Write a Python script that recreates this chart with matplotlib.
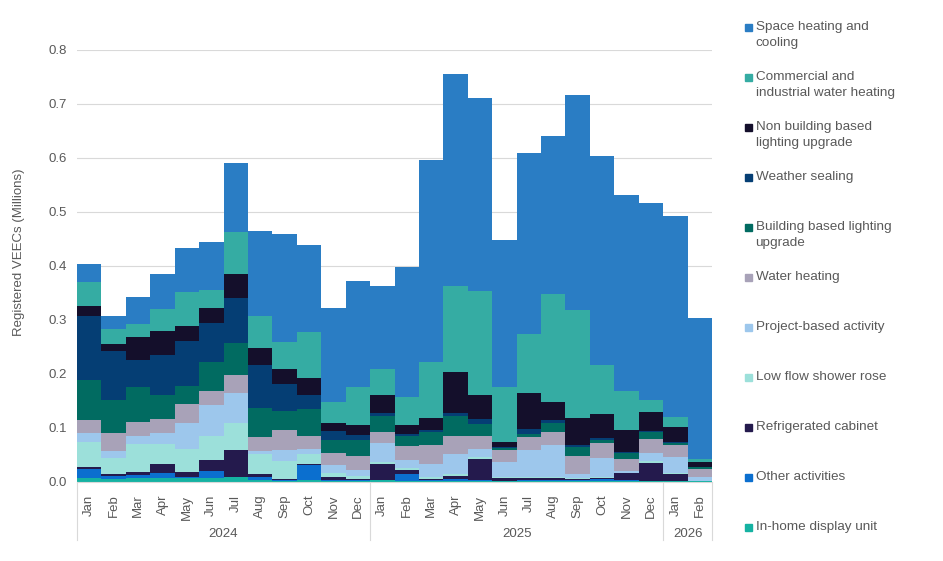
import matplotlib
matplotlib.use("Agg")
import matplotlib.pyplot as plt
from matplotlib.patches import Rectangle
import matplotlib.transforms as mtransforms
import numpy as np

plt.rcParams['font.family'] = ['Liberation Sans', 'DejaVu Sans']

months = ["Jan", "Feb", "Mar", "Apr", "May", "Jun", "Jul", "Aug", "Sep", "Oct", "Nov", "Dec",
          "Jan", "Feb", "Mar", "Apr", "May", "Jun", "Jul", "Aug", "Sep", "Oct", "Nov", "Dec",
          "Jan", "Feb"]
years = ["2024", "2025", "2026"]
year_counts = [12, 12, 2]

# bottom -> top stacking order
in_home_display = [0.007, 0.006, 0.007, 0.007, 0.007, 0.007, 0.009, 0.004, 0.002, 0.003, 0.002, 0.002,
                   0.003, 0.001, 0.002, 0.002, 0.002, 0.001, 0.002, 0.002, 0.002, 0.002, 0.002, 0.001,
                   0.001, 0.001]
other_activities = [0.017, 0.006, 0.006, 0.009, 0.002, 0.013, 0.001, 0.006, 0.001, 0.028, 0.002, 0.001,
                    0.001, 0.014, 0.001, 0.004, 0.002, 0.001, 0.002, 0.002, 0.002, 0.004, 0.001, 0.001,
                    0.001, 0.0]
refrigerated_cabinet = [0.004, 0.003, 0.005, 0.017, 0.009, 0.020, 0.049, 0.004, 0.003, 0.002, 0.005, 0.003,
                        0.030, 0.008, 0.003, 0.006, 0.039, 0.005, 0.003, 0.003, 0.002, 0.002, 0.013, 0.034,
                        0.013, 0.0]
low_flow_shower_rose = [0.047, 0.030, 0.053, 0.038, 0.043, 0.045, 0.050, 0.037, 0.033, 0.019, 0.007, 0.006,
                        0.003, 0.003, 0.003, 0.002, 0.003, 0.002, 0.002, 0.002, 0.002, 0.002, 0.001, 0.002,
                        0.001, 0.001]
project_based = [0.016, 0.012, 0.015, 0.020, 0.049, 0.058, 0.056, 0.007, 0.020, 0.009, 0.016, 0.011,
                 0.036, 0.015, 0.025, 0.038, 0.016, 0.028, 0.050, 0.059, 0.007, 0.034, 0.004, 0.016,
                 0.030, 0.007]
water_heating = [0.024, 0.034, 0.025, 0.025, 0.034, 0.025, 0.033, 0.026, 0.037, 0.025, 0.022, 0.025,
                 0.019, 0.025, 0.034, 0.034, 0.023, 0.022, 0.025, 0.025, 0.033, 0.028, 0.021, 0.025,
                 0.023, 0.016]
building_lighting = [0.073, 0.060, 0.064, 0.045, 0.033, 0.054, 0.060, 0.053, 0.035, 0.049, 0.023, 0.030,
                     0.031, 0.020, 0.025, 0.037, 0.022, 0.004, 0.005, 0.017, 0.017, 0.006, 0.012, 0.014,
                     0.004, 0.002]
weather_sealing = [0.119, 0.091, 0.050, 0.075, 0.085, 0.072, 0.082, 0.080, 0.050, 0.027, 0.017, 0.009,
                   0.004, 0.003, 0.003, 0.005, 0.009, 0.002, 0.009, 0.005, 0.003, 0.003, 0.002, 0.002,
                   0.002, 0.001]
non_building_lighting = [0.019, 0.014, 0.043, 0.043, 0.026, 0.029, 0.045, 0.032, 0.028, 0.031, 0.016, 0.019,
                         0.034, 0.017, 0.022, 0.075, 0.046, 0.009, 0.066, 0.034, 0.050, 0.045, 0.040, 0.035,
                         0.026, 0.009]
cni_water_heating = [0.045, 0.027, 0.024, 0.041, 0.064, 0.032, 0.078, 0.058, 0.051, 0.085, 0.038, 0.070,
                     0.048, 0.052, 0.104, 0.160, 0.192, 0.102, 0.110, 0.199, 0.200, 0.091, 0.072, 0.022,
                     0.020, 0.006]
space_heating = [0.032, 0.025, 0.050, 0.065, 0.081, 0.089, 0.128, 0.157, 0.200, 0.161, 0.175, 0.196,
                 0.154, 0.241, 0.375, 0.393, 0.358, 0.272, 0.336, 0.292, 0.399, 0.386, 0.364, 0.364,
                 0.372, 0.260]

series = [
    ("In-home display unit", in_home_display, "#15B2A2"),
    ("Other activities", other_activities, "#0B6FCF"),
    ("Refrigerated cabinet", refrigerated_cabinet, "#241A4D"),
    ("Low flow shower rose", low_flow_shower_rose, "#9CE0DA"),
    ("Project-based activity", project_based, "#9DC7EC"),
    ("Water heating", water_heating, "#A8A2B8"),
    ("Building based lighting\nupgrade", building_lighting, "#016B61"),
    ("Weather sealing", weather_sealing, "#053E74"),
    ("Non building based\nlighting upgrade", non_building_lighting, "#140F2B"),
    ("Commercial and\nindustrial water heating", cni_water_heating, "#35ACA3"),
    ("Space heating and\ncooling", space_heating, "#2A7DC4"),
]

W, H = 943, 561
fig = plt.figure(figsize=(W / 100, H / 100), dpi=100)
ax = fig.add_axes([77 / W, 1 - 482 / H, (712 - 77) / W, (482 - 50) / H])

grey = "#595959"
x = np.arange(len(months))
bottom = np.zeros(len(months))
for name, vals, col in series:
    v = np.array(vals)
    ax.bar(x, v, width=1.0, bottom=bottom, color=col, linewidth=0, zorder=2)
    bottom += v

ax.set_xlim(-0.5, len(months) - 0.5)
ax.set_ylim(0, 0.8)
ax.set_yticks(np.arange(0, 0.81, 0.1))
ax.set_yticklabels([f"{t:.1f}" for t in np.arange(0, 0.81, 0.1)], fontsize=9.5, color=grey)
ax.yaxis.grid(True, color="#D9D9D9", linewidth=0.8, zorder=0)
ax.set_axisbelow(True)
for s in ["top", "right", "left"]:
    ax.spines[s].set_visible(False)
ax.spines["bottom"].set_color("#D9D9D9")
ax.tick_params(axis="y", length=0, pad=7)
ax.set_xticks(x)
ax.set_xticklabels(months, rotation=90, fontsize=9.5, color=grey)
ax.tick_params(axis="x", length=0, pad=9)

# year group labels and separators
trans = mtransforms.blended_transform_factory(ax.transData, ax.transAxes)
sep_bottom = -(540 - 482) / (482 - 50)
start = 0
edges = [-0.5]
for yr, n in zip(years, year_counts):
    center = start + (n - 1) / 2
    ax.text(center, -(534 - 482) / (482 - 50), yr, transform=trans, ha="center", va="center",
            fontsize=9.5, color=grey)
    start += n
    edges.append(start - 0.5)
for e in edges:
    ax.plot([e, e], [0, sep_bottom], transform=trans, color="#D9D9D9", linewidth=0.8, clip_on=False)

fig.text(19 / W, 1 - 252 / H, "Registered VEECs (Millions)", rotation=90, ha="center", va="center",
         fontsize=9.5, color=grey)

# legend (top -> bottom)
for i, (name, vals, col) in enumerate(reversed(series)):
    ytop = 27 + 50 * i
    fig.patches.append(Rectangle((745 / W, 1 - (ytop + 4) / H), 7 / W, 7 / H,
                                 transform=fig.transFigure, color=col, figure=fig))
    fig.text(755.5 / W, 1 - (ytop - 6) / H, name, ha="left", va="top", fontsize=9.7,
             color=grey, linespacing=1.45)

fig.savefig("out.png", dpi=100)
